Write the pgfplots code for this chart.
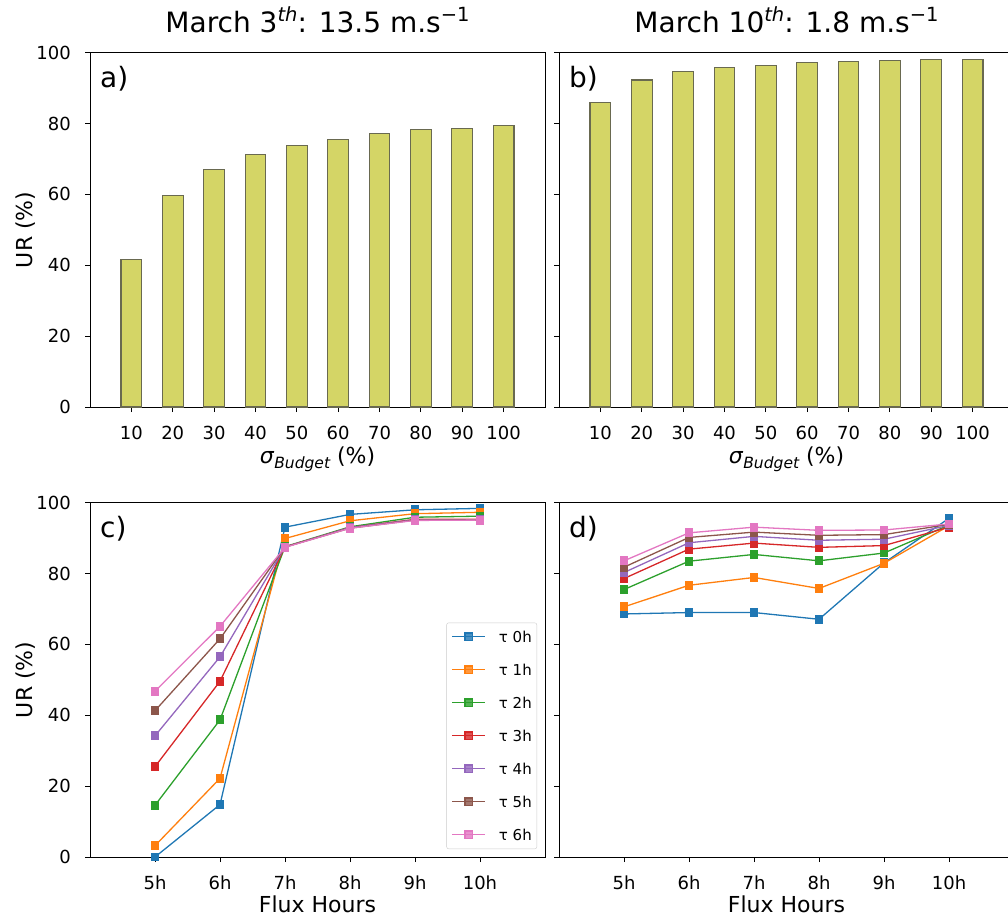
\documentclass[border=0pt]{standalone}
\usepackage{fontspec}
\setmainfont{DejaVu Sans}
\usepackage{pgfplots}
\pgfplotsset{compat=1.18}

\definecolor{c0}{HTML}{1F77B4}
\definecolor{c1}{HTML}{FF7F0E}
\definecolor{c2}{HTML}{2CA02C}
\definecolor{c3}{HTML}{D62728}
\definecolor{c4}{HTML}{9467BD}
\definecolor{c5}{HTML}{8C564B}
\definecolor{c6}{HTML}{E377C2}
\definecolor{barfill}{HTML}{D4D566}
\definecolor{baredge}{RGB}{105,105,80}

\newcommand{\fs}[1]{\fontsize{#1}{#1}\selectfont}

\tikzset{letter/.style={anchor=base west, inner sep=0pt, font=\fs{28}, xshift=10pt, yshift=-34.5pt}}

\pgfplotsset{
  panel/.style={
    scale only axis, width=455pt, height=354.3pt,
    tick align=outside, tick pos=left, major tick length=5pt,
    tick style={black, line width=1pt},
    axis line style={line width=1pt},
    ymin=0, ymax=100, ytick={0,20,...,100},
    /pgf/number format/assume math mode=true,
    ticklabel style={font=\fs{18}},
    yticklabel style={inner sep=0pt, anchor=east, xshift=-14pt},
    xticklabel style={inner sep=0pt, anchor=base, yshift=-27.5pt},
    ylabel style={at={(axis description cs:0,0.5)}, anchor=base, inner sep=0pt, yshift=57.3pt, font=\fs{22}},
    title style={at={(axis description cs:0.5,1)}, anchor=base, inner sep=0pt, yshift=14.7pt, font=\fs{28}},
  },
  barpanel/.style={panel, ybar, bar width=5, xmin=0, xmax=110, xtick={10,20,...,100},
    xlabel={\textit{σ}\raisebox{-4.5pt}{\fs{15.5}\itshape Budget} (\%)},
    xlabel style={at={(axis description cs:0.5,0)}, anchor=base, inner sep=0pt, yshift=-56.5pt, font=\fs{22}},
  },
  linepanel/.style={panel, xmin=4, xmax=11, xtick={5,...,10}, xticklabels={5h,6h,7h,8h,9h,10h},
    xlabel={Flux Hours},
    xlabel style={at={(axis description cs:0.5,0)}, anchor=base, inner sep=0pt, yshift=-55.5pt, font=\fs{22}},
  },
  bars/.style={fill=barfill, draw=baredge, line width=1.1pt},
  ser/.style={#1, line width=1.3pt, mark=square*, mark size=3.8pt, mark options={solid, fill=#1}},
}

\begin{document}
\begin{tikzpicture}
% a)
\begin{axis}[barpanel, at={(90pt,-52.7pt)}, anchor=north west,
  ylabel={UR (\%)},
  title={March 3\raisebox{10.5pt}{\fs{19.5}\itshape th}: 13.5 m.s\raisebox{10.5pt}{\fs{19.5}−1}}]
\addplot[bars] coordinates {(10,41.6)(20,59.7)(30,67.1)(40,71.3)(50,73.9)(60,75.5)(70,77.1)(80,78.2)(90,78.7)(100,79.4)};
\node[letter] at (rel axis cs:0,1) {a)};
\end{axis}
% b)
\begin{axis}[barpanel, at={(559pt,-52.7pt)}, anchor=north west, yticklabels={},
  title={March 10\raisebox{10.5pt}{\fs{19.5}\itshape th}: 1.8 m.s\raisebox{10.5pt}{\fs{19.5}−1}}]
\addplot[bars] coordinates {(10,86.0)(20,92.3)(30,94.8)(40,95.9)(50,96.5)(60,97.2)(70,97.5)(80,97.7)(90,98.0)(100,98.0)};
\node[letter] at (rel axis cs:0,1) {b)};
\end{axis}
% c)
\begin{axis}[linepanel, at={(90pt,-502.7pt)}, anchor=north west,
  ylabel={UR (\%)},
  legend cell align=left,
  legend image code/.code={\draw[mark repeat=2, mark phase=2, #1] plot coordinates {(0pt,0pt) (16.5pt,0pt) (33pt,0pt)};},
  legend style={at={(1,0)}, anchor=south east, xshift=-8pt, yshift=8pt,
    draw=black!20, fill=white, fill opacity=0.8, text opacity=1, rounded corners=2pt,
    font=\fs{15}, nodes={inner sep=0pt, text depth=0pt},
    inner xsep=5pt, inner ysep=8.3pt, row sep=21.6pt, column sep=13pt}]
\addplot[ser=c0] coordinates {(5,0.0)(6,14.8)(7,93.1)(8,96.7)(9,98.0)(10,98.4)};
\addplot[ser=c1] coordinates {(5,3.2)(6,22.2)(7,89.9)(8,94.9)(9,96.9)(10,97.3)};
\addplot[ser=c2] coordinates {(5,14.6)(6,38.7)(7,87.6)(8,93.2)(9,95.9)(10,96.2)};
\addplot[ser=c3] coordinates {(5,25.5)(6,49.6)(7,87.5)(8,93.0)(9,95.3)(10,95.3)};
\addplot[ser=c4] coordinates {(5,34.2)(6,56.5)(7,87.5)(8,93.0)(9,95.2)(10,95.2)};
\addplot[ser=c5] coordinates {(5,41.3)(6,61.6)(7,87.5)(8,92.8)(9,95.1)(10,95.1)};
\addplot[ser=c6] coordinates {(5,46.8)(6,65.1)(7,87.4)(8,92.8)(9,95.0)(10,95.1)};
\legend{τ 0h, τ 1h, τ 2h, τ 3h, τ 4h, τ 5h, τ 6h}
\node[letter] at (rel axis cs:0,1) {c)};
\end{axis}
% d)
\begin{axis}[linepanel, at={(559pt,-502.7pt)}, anchor=north west, yticklabels={}]
\addplot[ser=c0] coordinates {(5,68.6)(6,69.0)(7,69.0)(8,67.1)(9,83.0)(10,95.6)};
\addplot[ser=c1] coordinates {(5,70.6)(6,76.7)(7,78.9)(8,75.8)(9,82.9)(10,93.5)};
\addplot[ser=c2] coordinates {(5,75.5)(6,83.5)(7,85.4)(8,83.6)(9,85.8)(10,93.7)};
\addplot[ser=c3] coordinates {(5,78.6)(6,86.9)(7,88.6)(8,87.4)(9,87.9)(10,93.1)};
\addplot[ser=c4] coordinates {(5,80.3)(6,88.7)(7,90.5)(8,89.4)(9,89.7)(10,93.6)};
\addplot[ser=c5] coordinates {(5,81.8)(6,90.2)(7,91.7)(8,90.8)(9,91.0)(10,93.9)};
\addplot[ser=c6] coordinates {(5,83.6)(6,91.5)(7,93.1)(8,92.2)(9,92.3)(10,94.0)};
\node[letter] at (rel axis cs:0,1) {d)};
\end{axis}
\pgfresetboundingbox
\useasboundingbox (0pt,0pt) rectangle (1008pt,-916pt);
\end{tikzpicture}
\end{document}
